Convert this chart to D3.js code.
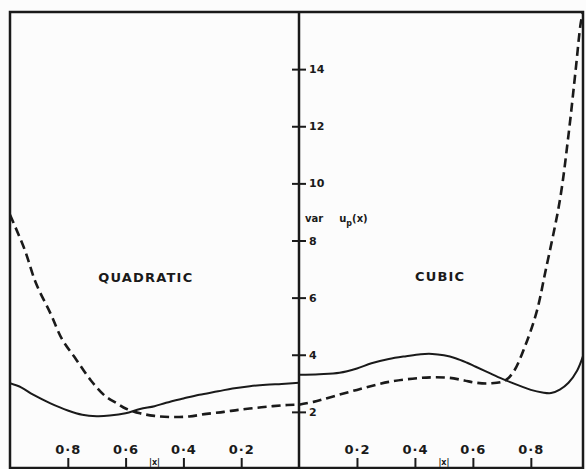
<!DOCTYPE html>
<html>
<head>
<meta charset="utf-8">
<script src="https://cdn.jsdelivr.net/npm/d3@7"></script>
<style>
  body { margin: 0; background: #fcfcfc; }
  svg { display: block; }
  text { font-family: "DejaVu Sans", sans-serif; fill: #1a1a1a; }
</style>
</head>
<body>
<script>
var w = 586;
var h = 469;

// quadratic panel (left, |x| runs from 1 down to 0)
var quadSolidX = [1.0, 0.96, 0.92, 0.86, 0.80, 0.75, 0.70, 0.655, 0.6, 0.55, 0.5, 0.46, 0.4, 0.345, 0.28, 0.23, 0.17, 0.114, 0.06, 0];
var quadSolidY = [3.0, 2.85, 2.6, 2.3, 2.05, 1.9, 1.85, 1.87, 1.95, 2.1, 2.2, 2.32, 2.47, 2.6, 2.72, 2.82, 2.9, 2.95, 2.98, 3.02];
var quadDashX = [1.0, 0.95, 0.91, 0.86, 0.82, 0.77, 0.72, 0.67, 0.63, 0.6, 0.55, 0.5, 0.44, 0.38, 0.32, 0.26, 0.21, 0.15, 0.09, 0.04, 0];
var quadDashY = [8.9, 7.7, 6.5, 5.45, 4.55, 3.82, 3.1, 2.55, 2.3, 2.12, 1.95, 1.86, 1.82, 1.84, 1.93, 2.0, 2.07, 2.14, 2.2, 2.24, 2.25];

// cubic panel (right, |x| runs from 0 up)
var cubSolidX = [0, 0.07, 0.14, 0.2, 0.25, 0.31, 0.37, 0.42, 0.46, 0.5, 0.54, 0.58, 0.61, 0.66, 0.71, 0.76, 0.8, 0.84, 0.87, 0.9, 0.93, 0.96, 0.98];
var cubSolidY = [3.3, 3.32, 3.37, 3.52, 3.7, 3.85, 3.95, 4.02, 4.03, 3.98, 3.88, 3.72, 3.58, 3.35, 3.12, 2.92, 2.77, 2.68, 2.66, 2.78, 3.02, 3.45, 3.95];
var cubDashX = [0, 0.05, 0.1, 0.2, 0.31, 0.42, 0.47, 0.52, 0.57, 0.61, 0.66, 0.71, 0.74, 0.78, 0.82, 0.85, 0.9, 0.93, 0.955, 0.972, 0.98];
var cubDashY = [2.25, 2.35, 2.49, 2.77, 3.05, 3.19, 3.21, 3.19, 3.1, 3.02, 3.0, 3.09, 3.4, 4.3, 5.5, 6.9, 9.4, 11.7, 14.0, 15.6, 16.0];

var yTicks = [2, 4, 6, 8, 10, 12, 14];
var xTicks = [0.2, 0.4, 0.6, 0.8];
var xTickLabels = ['0·2', '0·4', '0·6', '0·8'];
var panelNames = ['QUADRATIC', 'CUBIC'];

var ink = '#1a1a1a';
var x0 = 10, xMid = 299, x1 = 583, yTop = 12, yBase = 468;

var svg = d3.select('body').append('svg')
    .attr('width', w)
    .attr('height', h);

var y = d3.scaleLinear().domain([0, 16]).range([469, 12]);
var xL = d3.scaleLinear().domain([1, 0]).range([x0, xMid]);
var xR = d3.scaleLinear().domain([0, 0.98]).range([xMid, x1]);

svg.append('defs').append('clipPath').attr('id', 'clip')
  .append('rect').attr('x', x0).attr('y', yTop).attr('width', x1 - x0).attr('height', yBase - yTop);

// frame
svg.append('path')
    .attr('d', 'M' + x0 + ',' + h + 'L' + x0 + ',' + yTop + 'L' + x1 + ',' + yTop + 'L' + x1 + ',' + h +
               'M' + x0 + ',' + yBase + 'L' + x1 + ',' + yBase)
    .attr('fill', 'none')
    .attr('stroke', ink)
    .attr('stroke-width', 2.5);

// curves
var pairs = function(xs, ys){
  return xs.map(function(d, i){ return [d, ys[i]]; });
};
var drawCurve = function(xs, ys, sc, dashed){
  var line = d3.line()
      .x(function(d){ return sc(d[0]); })
      .y(function(d){ return y(d[1]); })
      .curve(d3.curveCatmullRom.alpha(0.5));
  svg.append('path')
      .datum(pairs(xs, ys))
      .attr('clip-path', 'url(#clip)')
      .attr('d', line)
      .attr('fill', 'none')
      .attr('stroke', ink)
      .attr('stroke-width', dashed ? 2.6 : 2)
      .attr('stroke-dasharray', dashed ? '9,5' : null);
};
drawCurve(quadSolidX, quadSolidY, xL, false);
drawCurve(quadDashX, quadDashY, xL, true);
drawCurve(cubSolidX, cubSolidY, xR, false);
drawCurve(cubDashX, cubDashY, xR, true);

// bottom axes (ticks rise from the base line, labels above)
var fmt = function(d){ return xTickLabels[xTicks.indexOf(d)]; };
[xL, xR].forEach(function(sc){
  var g = svg.append('g')
      .attr('transform', 'translate(0,' + yBase + ')')
      .call(d3.axisTop(sc).tickValues(xTicks).tickFormat(fmt).tickSize(10).tickPadding(4));
  g.select('.domain').remove();
  g.selectAll('line').attr('stroke', ink).attr('stroke-width', 2);
  g.selectAll('text').attr('font-size', 13).attr('font-weight', 'bold')
      .attr('letter-spacing', 1).attr('fill', ink);
});

// |x| labels
[xL(0.5), xR(0.5)].forEach(function(cx){
  svg.append('text').attr('x', cx).attr('y', 465)
      .attr('text-anchor', 'middle').attr('font-size', 8).attr('font-weight', 'bold')
      .text('|x|');
});

// central axis
svg.append('line')
    .attr('x1', xMid).attr('x2', xMid).attr('y1', yTop).attr('y2', h)
    .attr('stroke', ink).attr('stroke-width', 2.5);

var gy = svg.append('g')
    .attr('transform', 'translate(' + xMid + ',0)')
    .call(d3.axisRight(y).tickValues(yTicks).tickSize(7).tickPadding(3));
gy.select('.domain').remove();
gy.selectAll('line').attr('x1', -7).attr('stroke', ink).attr('stroke-width', 2);
gy.selectAll('text').attr('font-size', 11).attr('font-weight', 'bold').attr('fill', ink);

// axis title
var title = svg.append('text').attr('x', 305).attr('y', 222).attr('font-size', 10).attr('font-weight', 'bold');
title.append('tspan').text('var');
title.append('tspan').attr('dx', 16).text('u');
title.append('tspan').attr('dy', 4).attr('font-size', 8).text('p');
title.append('tspan').attr('dy', -4).text('(x)');

// panel labels
svg.append('text').attr('x', xL(0.53)).attr('y', 282).attr('text-anchor', 'middle')
    .attr('font-size', 13).attr('letter-spacing', 1.2).attr('font-weight', 'bold').text(panelNames[0]);
svg.append('text').attr('x', xR(0.487)).attr('y', 281).attr('text-anchor', 'middle')
    .attr('font-size', 13).attr('letter-spacing', 1.2).attr('font-weight', 'bold').text(panelNames[1]);
</script>
</body>
</html>
